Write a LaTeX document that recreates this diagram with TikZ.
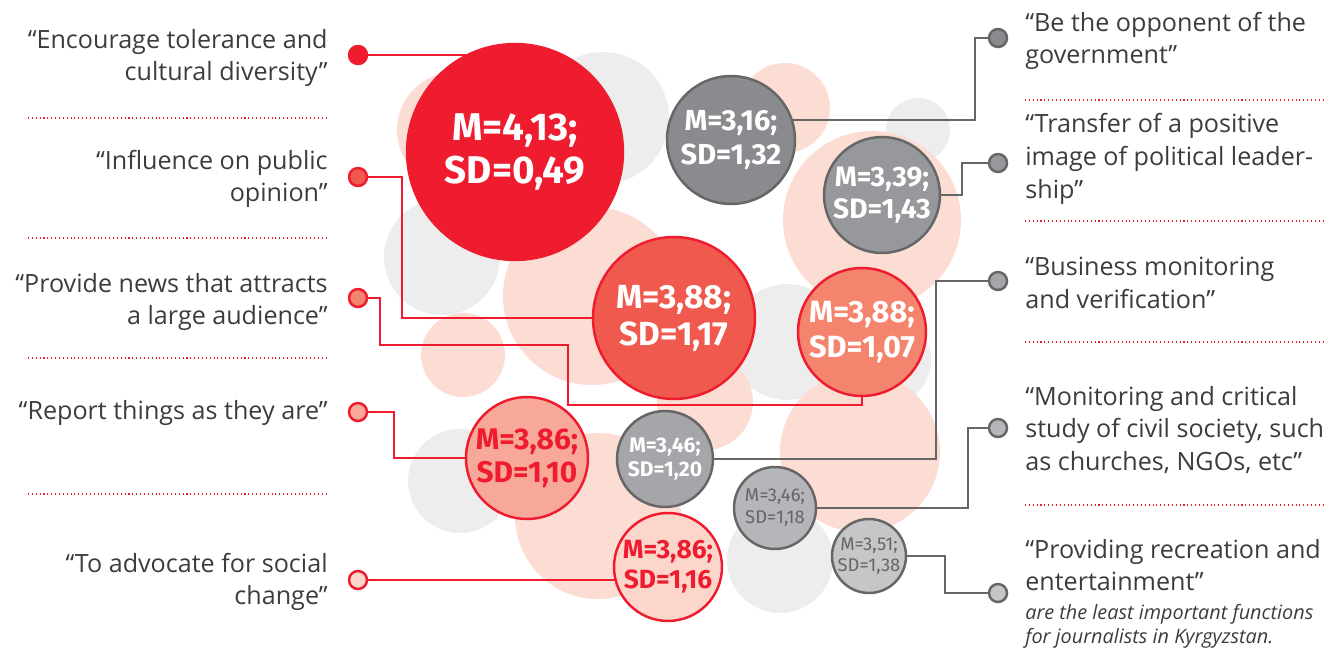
\documentclass[tikz,border=0pt]{standalone}
\usepackage{fontspec}
\setmainfont{Open Sans}
\newfontfamily\numfont{Fira Sans}
\usetikzlibrary{positioning}

\definecolor{redA}{HTML}{EE1C2E}
\definecolor{redB}{HTML}{F05A4E}
\definecolor{redC}{HTML}{F4846E}
\definecolor{redD}{HTML}{F7A898}
\definecolor{redE}{HTML}{FCD5CB}
\definecolor{grayA}{HTML}{8A8B8E}
\definecolor{grayB}{HTML}{97989B}
\definecolor{grayC}{HTML}{A5A6A9}
\definecolor{grayD}{HTML}{B5B6B9}
\definecolor{grayE}{HTML}{C5C6C8}
\definecolor{lineg}{HTML}{666666}
\definecolor{palepink}{HTML}{FCDDD3}
\definecolor{palegray}{HTML}{EDEDED}
\definecolor{labtext}{HTML}{3C3C3C}

\newcommand\numsz[2]{\numfont\bfseries\fontsize{#1}{#2}\selectfont}
\newcommand\numrg[2]{\numfont\fontsize{#1}{#2}\selectfont}

\pgfdeclarelayer{back}
\pgfdeclarelayer{mid}
\pgfsetlayers{back,mid,main}

\begin{document}
\begin{tikzpicture}[x=0.02cm,y=-0.02cm,
  bub/.style={circle,draw,line width=1.4pt,inner sep=0pt,minimum size=#1*0.04cm,align=center,text=white},
  reddot/.style={circle,draw=redA,line width=1.4pt,inner sep=0pt,minimum size=0.36cm},
  graydot/.style={circle,draw=lineg,line width=1.4pt,inner sep=0pt,minimum size=0.36cm},
  lab/.style={font=\fontsize{14.3}{18.6}\selectfont,text=labtext,inner sep=0pt},
  redline/.style={draw=redA,line width=1.4pt},
  gline/.style={draw=lineg,line width=1.4pt},
  sep/.style={draw=redA,line width=0.6pt,dash pattern=on 0.6pt off 1.6pt}]
\useasboundingbox (0,0) rectangle (1333,653);

% pale circles behind
\begin{pgfonlayer}{back}
\fill[palegray] (603,118) circle[radius=66];
\fill[palegray] (442,257) circle[radius=58];
\fill[palegray] (460,481) circle[radius=52];
\fill[palegray] (787,342) circle[radius=58];
\fill[palegray] (885,360) circle[radius=46];
\fill[palegray] (918,130) circle[radius=32];
\fill[palegray] (780,560) circle[radius=53];
\fill[palepink] (455,130) circle[radius=58];
\fill[palepink] (785,108) circle[radius=45];
\fill[palepink] (872,220) circle[radius=89];
\fill[palepink] (592,296) circle[radius=89];
\fill[palepink] (463,355) circle[radius=42];
\fill[palepink] (705,402) circle[radius=48];
\fill[palepink] (598,516) circle[radius=83];
\fill[palepink] (860,452) circle[radius=80];
\end{pgfonlayer}

% bubbles
\node[bub=108,fill=redA,draw=redA,font=\numsz{22}{24}] (b413) at (515,152) {M=4,13;\\SD=0,49};
\node[bub=81,fill=redB,draw=redA,font=\numsz{19}{21}] (b388a) at (674,318) {M=3,88;\\SD=1,17};
\node[bub=64,fill=redC,draw=redA,font=\numsz{17.5}{19.5}] (b388b) at (862,332) {M=3,88;\\SD=1,07};
\node[bub=61,fill=redD,draw=redA,text=redA,font=\numsz{17}{19}] (b386a) at (527,458) {M=3,86;\\SD=1,10};
\node[bub=54,fill=redE,draw=redA,text=redA,font=\numsz{15}{17}] (b386b) at (668,567) {M=3,86;\\SD=1,16};
\node[bub=64,fill=grayA,draw=lineg,font=\numsz{16.5}{19}] (g316) at (731,140) {M=3,16;\\SD=1,32};
\node[bub=58,fill=grayB,draw=lineg,font=\numsz{16}{18.5}] (g339) at (882,195) {M=3,39;\\SD=1,43};
\node[bub=48,fill=grayC,draw=lineg,font=\numsz{12}{14}] (g346a) at (665,459) {M=3,46;\\SD=1,20};
\node[bub=41,fill=grayD,draw=lineg,text=lineg,font=\numrg{10.5}{12.5}] (g346b) at (775,508) {M=3,46;\\SD=1,18};
\node[bub=37,fill=grayE,draw=lineg,text=lineg,font=\numrg{10.5}{12}] (g351) at (869,556) {M=3,51;\\SD=1,38};

% left side
\node[reddot,fill=redA] (l1) at (358,55) {};
\node[reddot,fill=redB] (l2) at (358,177) {};
\node[reddot,fill=redC] (l3) at (358,298) {};
\node[reddot,fill=redD] (l4) at (358,412) {};
\node[reddot,fill=redE] (l5) at (358,580) {};
\node[lab,anchor=east,align=right] (t1) at (328,58) {“Encourage tolerance and\\cultural diversity”};
\node[lab,anchor=east,align=right] (t2) at (328,179) {“Influence on public\\opinion”};
\node[lab,anchor=east,align=right] (t3) at (328,302) {“Provide news that attracts\\a large audience”};
\node[lab,anchor=east,align=right] (t4) at (328,413) {“Report things as they are”};
\node[lab,anchor=east,align=right] (t5) at (328,582) {“To advocate for social\\change”};

% right side
\node[graydot,fill=grayA] (r1) at (998,38) {};
\node[graydot,fill=grayB] (r2) at (998,163) {};
\node[graydot,fill=grayC] (r3) at (998,281) {};
\node[graydot,fill=grayD] (r4) at (998,428) {};
\node[graydot,fill=grayE] (r5) at (998,593) {};
\node[lab,anchor=west,align=left] (s1) at (1025,41) {“Be the opponent of the\\government”};
\node[lab,anchor=west,align=left] (s2) at (1025,159) {“Transfer of a positive\\image of political leader-\\ship”};
\node[lab,anchor=west,align=left] (s3) at (1025,283) {“Business monitoring\\and verification”};
\node[lab,anchor=west,align=left] (s4) at (1025,430) {“Monitoring and critical\\study of civil society, such\\as churches, NGOs, etc”};
\node[lab,anchor=west,align=left] (s5) at (1025,565) {“Providing recreation and\\entertainment”};
\node[lab,anchor=north west,align=left,font=\itshape\fontsize{11.3}{13.8}\selectfont] (note) at (1025,604) {are the least important functions\\for journalists in Kyrgyzstan.};

\foreach \y in {118,238,358,494} \draw[sep] (28,\y) -- (328,\y);
\foreach \y in {100,221,342,505} \draw[sep] (1025,\y) -- (1325,\y);

% connectors
\begin{pgfonlayer}{mid}
\draw[redline] (l1) -- (l1 -| b413);
\draw[redline] (l2) -- ++(44,0) |- (b388a);
\draw[redline] (l3) -- ++(22,0) |- (568,345) |- (862,405) -- (b388b);
\draw[redline] (l4) -- ++(36,0) |- (b386a);
\draw[redline] (l5) -- (l5 -| b386b);
\draw[gline] (r1) -- ++(-23,0) |- (g316.18);
\draw[gline] (r2) -- ++(-36,0) |- (g339);
\draw[gline] (r3) -- ++(-62,0) |- (g346a);
\draw[gline] (r4) -- ++(-30,0) |- (g346b);
\draw[gline] (r5) -- ++(-53,0) |- (g351);
\end{pgfonlayer}
\end{tikzpicture}
\end{document}
